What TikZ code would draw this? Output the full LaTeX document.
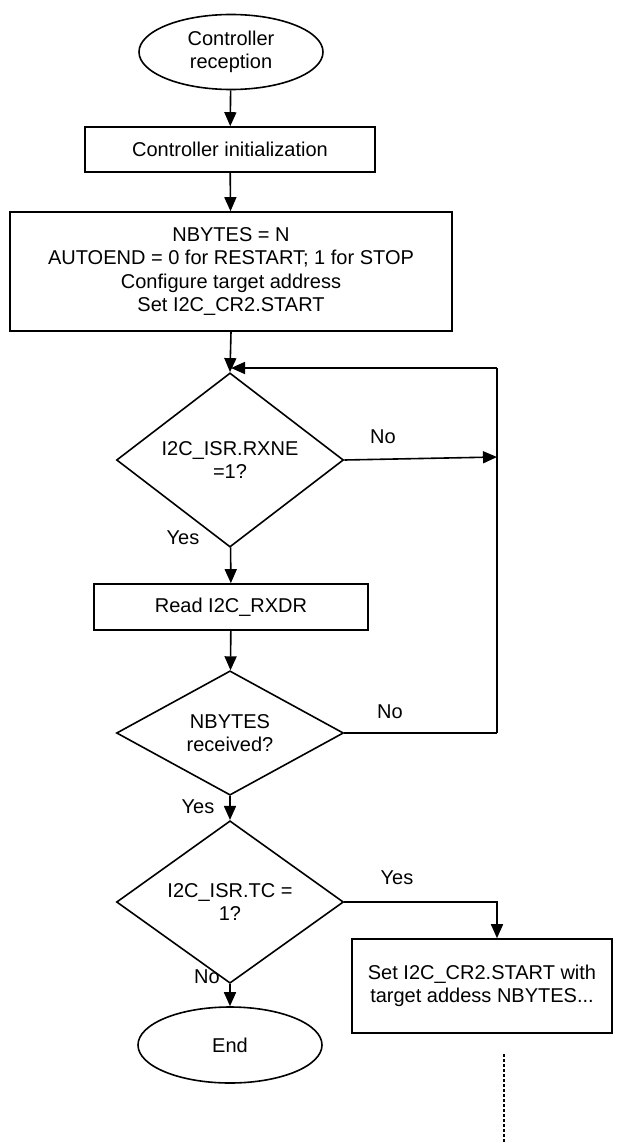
\documentclass[tikz,border=0pt]{standalone}
\usepackage{fontspec}
\setmainfont{Liberation Sans}
\usetikzlibrary{shapes.geometric,arrows.meta}
\begin{document}
\begin{tikzpicture}[x=1pt,y=-1pt,
  every node/.style={font=\fontsize{20}{23.5}\selectfont, align=center, inner sep=0pt},
  box/.style={draw, line width=1.6pt, minimum width=#1, rectangle},
  term/.style={draw, line width=1.6pt, ellipse, minimum width=184pt, minimum height=#1},
  dec/.style={draw, line width=1.6pt, diamond, minimum width=227pt, minimum height=#1},
  lbl/.style={font=\fontsize{20}{23.5}\selectfont},
  line/.style={line width=1.6pt},
  arr/.style={line width=1.6pt, -{Triangle[length=14pt,width=12pt]}}]
\useasboundingbox (0,0) rectangle (618,1143);
\node[term=75pt] (start) at (231,52) {Controller\\reception};
\node[box=290pt, minimum height=45pt] (init) at (230,149.5) {Controller initialization};
\node[box=442pt, minimum height=119pt] (cfg) at (231,271.5) {NBYTES = N\\AUTOEND = 0 for RESTART; 1 for STOP\\Configure target address\\Set I2C\_CR2.START};
\node[dec=120pt] (d1) at (230,460) {I2C\_ISR.RXNE\\=1?};
\node[box=274pt, minimum height=46pt] (read) at (231,607) {Read I2C\_RXDR};
\node[dec=114pt] (d2) at (230,733) {NBYTES\\received?};
\node[dec=120pt] (d3) at (230,902) {I2C\_ISR.TC =\\1?};
\node[term=76pt] (end) at (230,1045) {End};
\node[box=260pt, minimum height=94pt] (restart) at (482,986) {Set I2C\_CR2.START with\\target addess NBYTES...};
\coordinate (j) at (231,368);
\coordinate (r1) at (497,368);
\coordinate (r2) at (497,457);
\coordinate (r3) at (497,733);
\coordinate (y3) at (497,902);
\coordinate (dt) at (504,1054);
\coordinate (db) at (504,1143);
\draw[arr] (start) -- (init);
\draw[arr] (init) -- (cfg);
\draw[arr] (cfg.south) -- (d1.north);
\draw[arr] (r1) -- (j);
\draw[line] (r1) -- (r3);
\draw[arr] (d1.east) -- (r2);
\draw[line] (d2.east) -- (r3);
\draw[arr] (d1) -- (read);
\draw[arr] (read) -- (d2);
\draw[arr] (d2) -- (d3);
\draw[arr] (d3) -- (end);
\draw[arr] (d3.east) -- (y3) -- (restart.north -| y3);
\draw[line, dash pattern=on 3pt off 2pt] (dt) -- (db);
\node[lbl] at (383,437) {No};
\node[lbl] at (390,712) {No};
\node[lbl] at (183,538) {Yes};
\node[lbl] at (198,807) {Yes};
\node[lbl] at (397,878) {Yes};
\node[lbl] at (207,977) {No};
\end{tikzpicture}
\end{document}
